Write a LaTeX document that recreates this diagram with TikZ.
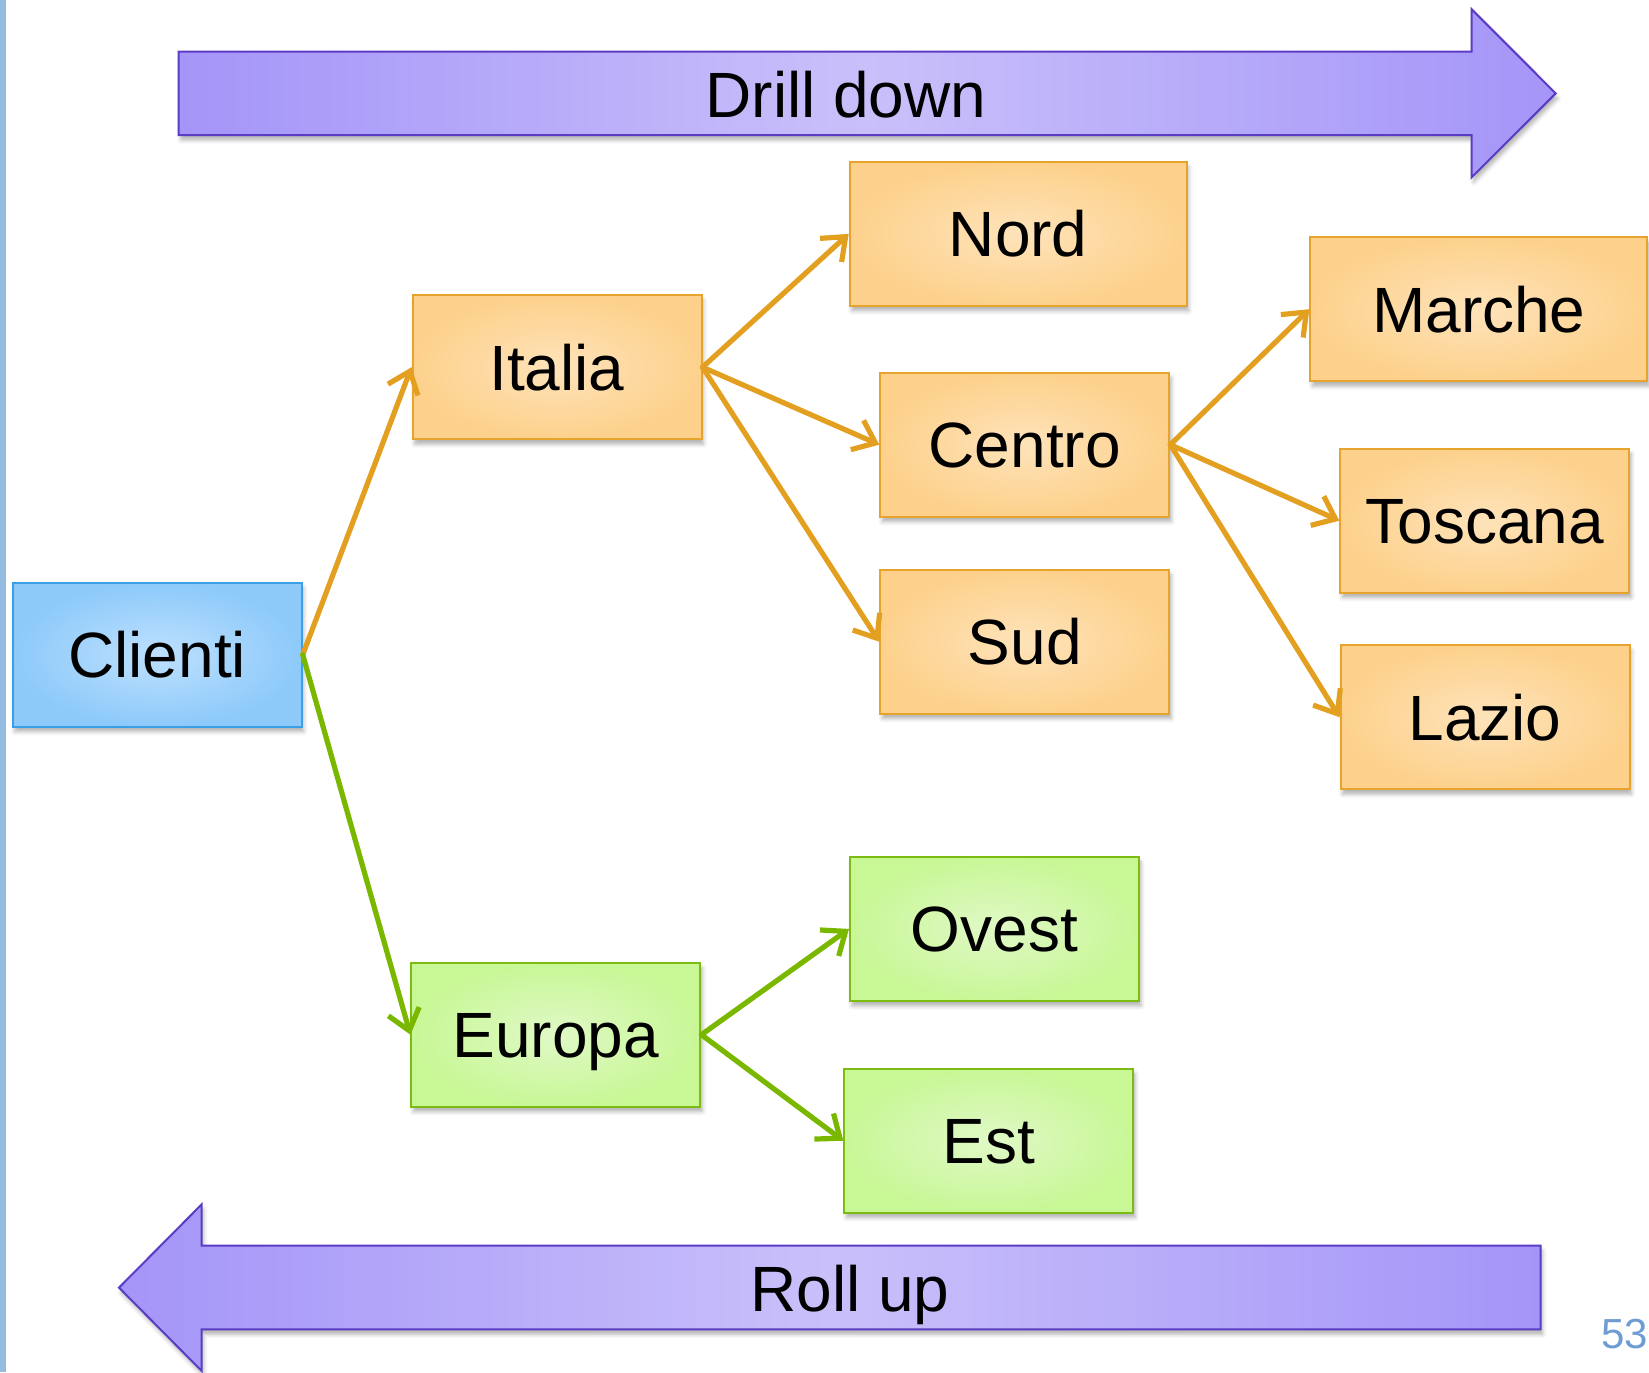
\documentclass[tikz,border=0pt]{standalone}
\usepackage{fontspec}
\setmainfont{Liberation Sans}
\usepackage{xcolor}
\usetikzlibrary{shapes, positioning, arrows.meta, shadows.blur}

\definecolor{slideblue}{HTML}{93BCE0}
\definecolor{pagenum}{HTML}{6E9CD3}
\definecolor{arrowrim}{HTML}{5B3CC4}
\definecolor{arrowedge}{HTML}{A495F8}
\definecolor{arrowmid}{HTML}{C9C0FA}
\definecolor{orangerim}{HTML}{E6A42C}
\definecolor{orangein}{HTML}{FEE3BA}
\definecolor{orangeout}{HTML}{FDD18C}
\definecolor{orangeline}{HTML}{E3A020}
\definecolor{greenrim}{HTML}{7CBB10}
\definecolor{greenin}{HTML}{E0F9C6}
\definecolor{greenout}{HTML}{C8F796}
\definecolor{greenline}{HTML}{7AB800}
\definecolor{bluerim}{HTML}{3B9FE5}
\definecolor{bluein}{HTML}{BEE0FE}
\definecolor{blueout}{HTML}{8DCAFA}

\begin{document}
\begin{tikzpicture}[x=0.5pt, y=-0.5pt,
        box/.style={rectangle, draw, line width=1pt, minimum width=144.5pt, minimum height=72pt,
            text height=23pt, text depth=0pt, font=\fontsize{32}{38}\selectfont,
            blur shadow={shadow xshift=1pt, shadow yshift=-2.5pt, shadow blur radius=2pt, shadow opacity=30}},
        widebox/.style={box, minimum width=168.5pt},
        orangebox/.style={draw=orangerim, inner color=orangein, outer color=orangeout},
        greenbox/.style={draw=greenrim, inner color=greenin, outer color=greenout},
        bluebox/.style={draw=bluerim, inner color=bluein, outer color=blueout},
        link/.style={line width=2.6pt, line cap=round, -{Straight Barb[length=10pt, width=16pt, line width=2.6pt]}},
        bigarrow/.style={draw=arrowrim, line width=1pt, left color=arrowedge, right color=arrowedge, middle color=arrowmid,
            blur shadow={shadow xshift=1pt, shadow yshift=-2.5pt, shadow blur radius=2pt, shadow opacity=30}}]
        \useasboundingbox (0, 0) rectangle (1649, 1372);
        \fill[slideblue] (0, 0) rectangle (6, 1372);

        \path[bigarrow] (178.7, 51.7) -- (1471.7, 51.7) -- (1471.7, 9.3) -- (1555.7, 93.4)
            -- (1471.7, 177.3) -- (1471.7, 135) -- (178.7, 135) -- cycle;
        \path[bigarrow] (1540.7, 1245.7) -- (201.7, 1245.7) -- (201.7, 1204.3) -- (119, 1287.6)
            -- (201.7, 1371) -- (201.7, 1329.3) -- (1540.7, 1329.3) -- cycle;
        \node[anchor=base, font=\fontsize{32}{38}\selectfont] (drill) at (846, 117) {Drill down};
        \node[anchor=base, font=\fontsize{32}{38}\selectfont] (roll) at (850, 1311) {Roll up};

        \node[box, bluebox] (clienti) at (157.2, 654.7) {Clienti};
        \node[box, orangebox] (italia) at (557, 367.2) {Italia};
        \node[widebox, orangebox] (nord) at (1018.2, 233.9) {Nord};
        \node[box, orangebox] (centro) at (1024.8, 444.7) {Centro};
        \node[box, orangebox] (sud) at (1024.8, 641.7) {Sud};
        \node[widebox, orangebox] (marche) at (1478.8, 309.2) {Marche};
        \node[box, orangebox] (toscana) at (1484.8, 520.7) {Toscana};
        \node[box, orangebox] (lazio) at (1485, 717.2) {Lazio};
        \node[box, greenbox] (europa) at (555.9, 1034.7) {Europa};
        \node[box, greenbox] (ovest) at (994.5, 928.9) {Ovest};
        \node[box, greenbox] (est) at (988.8, 1140.7) {Est};

        \draw[link, orangeline] (clienti.east) to (italia.west);
        \draw[link, orangeline] (italia.east) to (nord.west);
        \draw[link, orangeline] (italia.east) to (centro.west);
        \draw[link, orangeline] (italia.east) to (sud.west);
        \draw[link, orangeline] (centro.east) to (marche.west);
        \draw[link, orangeline] (centro.east) to (toscana.west);
        \draw[link, orangeline] (centro.east) to (lazio.west);
        \draw[link, greenline] (clienti.east) to (europa.west);
        \draw[link, greenline] (europa.east) to (ovest.west);
        \draw[link, greenline] (europa.east) to (est.west);

        \node[anchor=base west, inner sep=0pt, text=pagenum, font=\fontsize{21}{25}\selectfont] (page) at (1601, 1348) {53};
    \end{tikzpicture}
\end{document}
